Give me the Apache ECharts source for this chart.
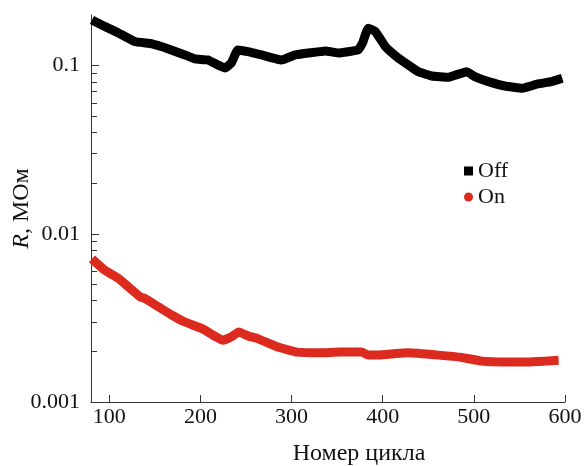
<!DOCTYPE html>
<html><head><meta charset="utf-8">
<script src="https://cdn.jsdelivr.net/npm/echarts@6/dist/echarts.min.js"></script>
<style>html,body{margin:0;padding:0;background:#fff}#c{width:585px;height:466px}</style>
</head><body><div id="c"></div>
<script>
const offCycles = [81, 95, 110, 128, 147, 165, 183, 194, 208, 219, 227, 234, 241, 252, 267, 289, 304, 322, 337, 351, 373, 378, 384, 392, 403, 417, 428, 439, 454, 472, 492, 501, 516, 534, 553, 570, 585, 597];
const offValues = [0.187, 0.171, 0.1565, 0.139, 0.1346, 0.1257, 0.1158, 0.1096, 0.1081, 0.101, 0.0969, 0.1038, 0.124, 0.1212, 0.1158, 0.1081, 0.1158, 0.1195, 0.1223, 0.119, 0.124, 0.1365, 0.167, 0.1594, 0.1297, 0.111, 0.101, 0.0921, 0.0868, 0.0853, 0.0921, 0.086, 0.0803, 0.0757, 0.0734, 0.0778, 0.0803, 0.0841];
const onCycles = [81, 95, 110, 121, 134, 139, 154, 169, 183, 202, 216, 225, 234, 242, 253, 262, 284, 306, 331, 353, 377, 384, 395, 414, 428, 461, 487, 509, 534, 560, 578, 593];
const onValues = [0.0071, 0.00608, 0.00543, 0.00484, 0.00422, 0.00413, 0.00368, 0.00328, 0.00299, 0.00273, 0.00246, 0.00233, 0.00244, 0.00261, 0.00246, 0.00239, 0.00213, 0.00198, 0.00196, 0.00198, 0.00198, 0.0019, 0.0019, 0.00194, 0.00196, 0.0019, 0.00184, 0.00175, 0.00173, 0.00173, 0.00175, 0.00177];
const xTicks = [100, 200, 300, 400, 500, 600];
const yMajor = [0.001, 0.01, 0.1];
const yMinor = [0.002,0.003,0.004,0.005,0.006,0.007,0.008,0.009,0.02,0.03,0.04,0.05,0.06,0.07,0.08,0.09];

const font = '"Liberation Serif", "Times New Roman", serif';
const chart = echarts.init(document.getElementById('c'), null, {renderer: 'canvas'});
const zip = (a, b) => a.map((v, i) => [v, b[i]]);
chart.setOption({
  animation: false,
  grid: {left: 91, top: 15, width: 474, height: 387, containLabel: false, outerBoundsMode: 'none'},
  legend: {
    orient: 'vertical', left: 459, top: 155, itemGap: 4, itemWidth: 9, itemHeight: 9,
    textStyle: {fontFamily: font, fontSize: 22, color: '#111', padding: [0, 0, 0, 0]},
    data: [{name: 'Off', icon: 'rect'}, {name: 'On', icon: 'circle'}]
  },
  xAxis: {
    type: 'value', min: 80, max: 600,
    name: 'Номер цикла', nameLocation: 'middle', nameGap: 40,
    nameTextStyle: {fontFamily: font, fontSize: 24, color: '#111', padding: [0, 0, 0, 62]},
    axisLine: {lineStyle: {color: '#333', width: 1}},
    axisTick: {show: true, inside: true, length: 7, customValues: xTicks, lineStyle: {color: '#333', width: 1}},
    axisLabel: {customValues: xTicks, fontFamily: font, fontSize: 22, color: '#111', margin: 4},
    splitLine: {show: false}
  },
  yAxis: [{
    type: 'log', min: 0.001, max: 0.2, logBase: 10,
    name: '{i|R}, МОм', nameLocation: 'middle', nameGap: 57, nameMoveOverlap: false,
    nameTextStyle: {fontFamily: font, fontSize: 24, color: '#111',
      rich: {i: {fontFamily: font, fontSize: 24, fontStyle: 'italic', color: '#111'}}},
    axisLine: {show: true, lineStyle: {color: '#333', width: 1}},
    axisTick: {show: true, inside: true, length: 8, customValues: yMajor, lineStyle: {color: '#333', width: 1}},
    axisLabel: {customValues: yMajor, fontFamily: font, fontSize: 22, color: '#111', margin: 11,
      formatter: v => String(v)},
    splitLine: {show: false}
  }, {
    type: 'log', min: 0.001, max: 0.2, logBase: 10, position: 'left', offset: 0,
    axisLine: {show: false},
    axisTick: {show: true, inside: true, length: 6, customValues: yMinor, lineStyle: {color: '#333', width: 1}},
    axisLabel: {show: false},
    splitLine: {show: false}
  }],
  series: [{
    name: 'Off', type: 'line', yAxisIndex: 0, data: zip(offCycles, offValues),
    showSymbol: false, symbol: 'rect', smooth: 0.1,
    lineStyle: {color: '#000', width: 9}, itemStyle: {color: '#000'}
  }, {
    name: 'On', type: 'line', yAxisIndex: 0, data: zip(onCycles, onValues),
    showSymbol: false, symbol: 'circle', smooth: 0.1,
    lineStyle: {color: '#dc2a1e', width: 9}, itemStyle: {color: '#dc2a1e'}
  }]
});
</script></body></html>
